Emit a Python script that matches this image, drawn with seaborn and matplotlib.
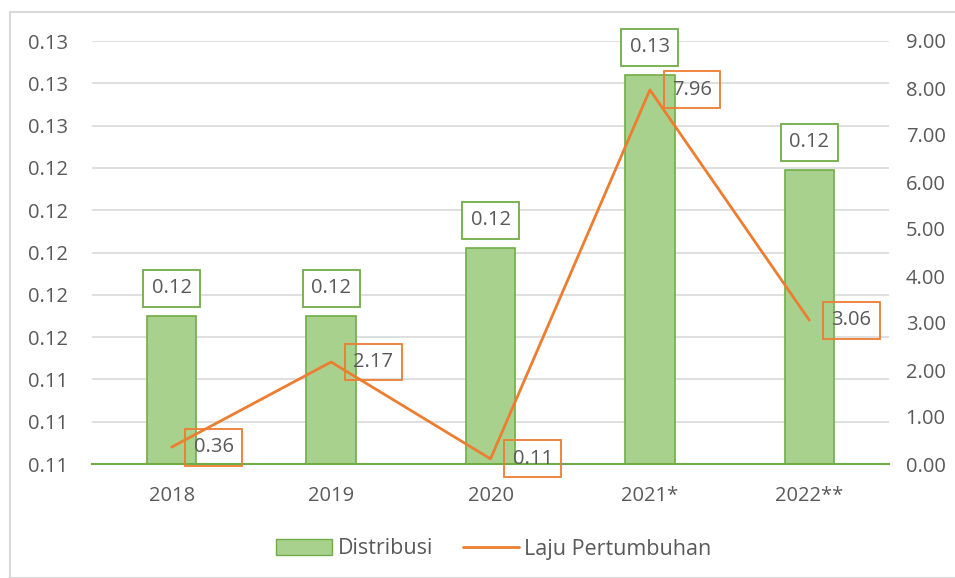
import numpy as np
import matplotlib.pyplot as plt
import seaborn as sns
import pandas as pd
from matplotlib.patches import Rectangle, Patch
from matplotlib.lines import Line2D

years = ["2018", "2019", "2020", "2021*", "2022**"]
distribusi = [0.1160, 0.1160, 0.1192, 0.1274, 0.1229]
distribusi_labels = ["0.12", "0.12", "0.12", "0.13", "0.12"]
laju = [0.36, 2.17, 0.11, 7.96, 3.06]
left_ticks = [0.109, 0.111, 0.113, 0.115, 0.117, 0.119, 0.121, 0.123, 0.125, 0.127, 0.129]
left_tick_labels = ["0.11", "0.11", "0.11", "0.12", "0.12", "0.12", "0.12", "0.12", "0.13", "0.13", "0.13"]

GREEN_FILL = "#A9D18E"
GREEN_EDGE = "#70AD47"
ORANGE = "#ED7D31"
GRAY = "#595959"
FS = 14.5

sns.set_style("white")
plt.rcParams["font.family"] = ["Open Sans", "DejaVu Sans"]

fig = plt.figure(figsize=(9.55, 5.78), dpi=100)
ax = fig.add_axes([92 / 955, 1 - 464 / 578, 797 / 955, 423 / 578])

df = pd.DataFrame({"year": years, "val": distribusi})
sns.barplot(data=df, x="year", y="val", ax=ax, color=GREEN_FILL, width=0.31,
            edgecolor=GREEN_EDGE, linewidth=1.2, saturation=1)
ax.set_ylim(0.109, 0.129)
ax.set_xlim(-0.5, 4.5)
ax.set_yticks(left_ticks)
ax.set_yticklabels(left_tick_labels)
ax.set_xlabel("")
ax.set_ylabel("")
ax.yaxis.grid(True, color="#D9D9D9", linewidth=1.2)
ax.set_axisbelow(True)
for s in ["top", "right", "left"]:
    ax.spines[s].set_visible(False)
ax.spines["bottom"].set_color(GREEN_EDGE)
ax.spines["bottom"].set_linewidth(1.5)
ax.tick_params(axis="y", length=0, pad=17, labelsize=FS, labelcolor=GRAY)
ax.tick_params(axis="x", length=0, pad=16, labelsize=FS, labelcolor=GRAY)

for i, (v, lab) in enumerate(zip(distribusi, distribusi_labels)):
    ax.annotate(lab, (i, v), xytext=(0, 20), textcoords="offset points", ha="center", va="center",
                fontsize=FS, color=GRAY,
                bbox=dict(boxstyle="square,pad=0.42", fc="white", ec=GREEN_EDGE, lw=1.3))

ax2 = ax.twinx()
sns.lineplot(x=np.arange(len(years)), y=laju, ax=ax2, color=ORANGE, linewidth=2.0)
ax2.set_ylim(0, 9)
ax2.set_xlim(-0.5, 4.5)
ax2.set_yticks(np.arange(0, 10, 1))
ax2.set_yticklabels([f"{t:.2f}" for t in range(10)])
for s in ax2.spines.values():
    s.set_visible(False)
ax2.tick_params(axis="y", length=0, pad=12, labelsize=FS, labelcolor=GRAY)

for i, v in enumerate(laju):
    ax2.annotate(f"{v:.2f}", (i, v), xytext=(16, 0), textcoords="offset points", ha="left", va="center",
                 fontsize=FS, color=GRAY,
                 bbox=dict(boxstyle="square,pad=0.42", fc="none", ec=ORANGE, lw=1.3))

handles = [Patch(facecolor=GREEN_FILL, edgecolor=GREEN_EDGE, label="Distribusi"),
           Line2D([0], [0], color=ORANGE, lw=2.0, label="Laju Pertumbuhan")]
fig.legend(handles=handles, loc="center", bbox_to_anchor=(494 / 955, 1 - 549 / 578), ncol=2,
           frameon=False, fontsize=15.5, labelcolor=GRAY, handlelength=2.6, columnspacing=1.4,
           handletextpad=0.25)

fig.patches.append(Rectangle((10 / 955, 0), 1, 1 - 12 / 578, transform=fig.transFigure,
                             fill=False, ec="#D9D9D9", lw=1.5))

fig.savefig("out.png", dpi=100)
